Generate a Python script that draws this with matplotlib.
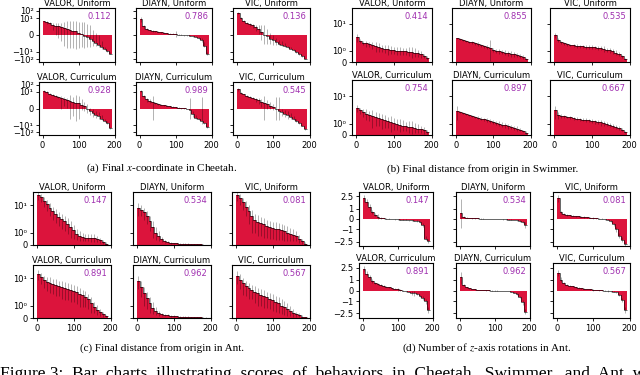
import numpy as np
import matplotlib
matplotlib.use('Agg')
import matplotlib.pyplot as plt

plt.rcParams['font.family'] = 'DejaVu Sans'
plt.rcParams['mathtext.fontset'] = 'stix'

methods = ['VALOR', 'DIAYN', 'VIC']
regimes = ['Uniform', 'Curriculum']

# (a) Cheetah: coordenada x final (orden: VALOR, DIAYN, VIC ; Uniform y luego Curriculum)
cheetah_valor_u = [3.7, 2.6, 1.9, 1.3, 0.99, 0.9, 0.82, 0.74, 0.67, 0.56, 0.47, 0.37, 0.23, 0.09, -0.08, -0.23, -0.43, -0.63, -0.82, -1.05, -2.1, -4.2, -8.4, -16.7]
cheetah_diayn_u = [8, 0.9, 0.6, 0.5, 0.42, 0.37, 0.33, 0.28, 0.24, 0.19, 0.15, 0.11, 0.08, 0.05, 0.02, -0.02, -0.05, -0.09, -0.13, -0.18, -0.3, -0.5, -1.5, -20]
cheetah_vic_u = [50, 12, 4.5, 2.2, 1.4, 1.1, 0.8, 0.6, 0.3, 0.05, -0.15, -0.4, -0.55, -0.7, -0.9, -1.1, -1.4, -2.2, -3.5, -6, -11, -22, -40, -80]
cheetah_valor_c = [14, 9, 6, 4.2, 3, 2.1, 1.5, 1.1, 0.9, 0.8, 0.7, 0.6, 0.55, 0.4, 0.25, 0.0, -0.3, -0.5, -0.65, -0.85, -1.3, -2.5, -5, -25]
cheetah_diayn_c = [15, 2.5, 1.0, 0.8, 0.65, 0.55, 0.47, 0.4, 0.35, 0.3, 0.25, 0.18, 0.12, 0.08, 0.04, 0.01, -0.05, -0.2, -0.6, -1.1, -1.6, -3, -6, -20]
cheetah_vic_c = [25, 8, 4.5, 2.8, 2, 1.5, 1.1, 0.9, 0.7, 0.6, 0.45, 0.3, 0.15, -0.05, -0.25, -0.4, -0.55, -0.75, -0.95, -1.4, -2.5, -5, -12, -35]

cheetah_valor_u_err = [1.0, 1.0, 0.8, 0.8, 1.0, 1.2, 1.5, 2.5, 3.5, 4.0, 3.5, 4.0, 3.0, 2.5, 3.0, 2.0, 1.5, 1.2, 1.0, 1.0, 1.5, 2.0, 3.0, 5.0]
cheetah_diayn_u_err = [5, 0.3, 0.1, 0.08, 0.06, 0.05, 0.05, 0.05, 0.05, 0.05, 0.05, 0.05, 0.3, 0.05, 0.05, 0.05, 0.05, 0.05, 0.05, 0.08, 0.1, 0.2, 0.8, 8]
cheetah_vic_u_err = [15, 4, 1.5, 0.8, 0.5, 0.4, 0.4, 0.5, 0.8, 1.0, 0.8, 0.6, 0.5, 0.4, 0.4, 0.5, 0.6, 0.8, 1.2, 2, 3, 6, 10, 20]
cheetah_valor_c_err = [4, 2.5, 1.5, 1.0, 0.8, 0.6, 1.5, 0.8, 0.8, 2.5, 1.5, 3.0, 2.0, 0.6, 0.5, 0.5, 0.4, 0.4, 0.4, 0.5, 0.6, 1.0, 2.0, 6]
cheetah_diayn_c_err = [5, 1.0, 0.3, 0.2, 2.5, 0.1, 0.08, 0.06, 0.05, 0.05, 0.05, 0.05, 0.05, 0.05, 0.05, 0.05, 0.05, 1.5, 0.3, 0.4, 0.5, 5, 1.5, 5]
cheetah_vic_c_err = [10, 2, 1, 0.6, 0.5, 0.4, 0.4, 0.4, 0.5, 2.5, 0.5, 0.4, 0.3, 2.0, 2.0, 0.4, 0.4, 0.5, 0.5, 0.6, 0.8, 1.5, 3, 8]
cheetah_scores = [0.112, 0.786, 0.136, 0.928, 0.989, 0.545]

# (b) Swimmer: distancia final al origen
swimmer_valor_u = [3.2, 2.3, 2.0, 1.9, 1.8, 1.65, 1.5, 1.4, 1.3, 1.22, 1.15, 1.1, 1.05, 1.02, 1.0, 0.97, 0.95, 0.93, 0.9, 0.85, 0.78, 0.68, 0.55, 0.35]
swimmer_diayn_u = [2.9, 2.7, 2.5, 2.35, 2.2, 2.05, 1.9, 1.75, 1.6, 1.5, 1.38, 1.25, 1.12, 1.02, 0.95, 0.9, 0.85, 0.78, 0.72, 0.68, 0.62, 0.55, 0.45, 0.25]
swimmer_vic_u = [3.8, 2.6, 2.1, 1.9, 1.75, 1.65, 1.58, 1.52, 1.48, 1.45, 1.42, 1.4, 1.38, 1.35, 1.32, 1.28, 1.2, 1.12, 1.05, 0.95, 0.85, 0.7, 0.5, 0.3]
swimmer_valor_c = [3.6, 3.0, 2.6, 2.3, 2.05, 1.85, 1.7, 1.55, 1.42, 1.3, 1.2, 1.1, 1.02, 0.95, 0.88, 0.82, 0.77, 0.72, 0.67, 0.62, 0.57, 0.5, 0.42, 0.25]
swimmer_diayn_c = [2.8, 2.6, 2.4, 2.2, 2.05, 1.9, 1.75, 1.62, 1.5, 1.42, 1.35, 1.25, 1.15, 1.07, 1.0, 0.92, 0.85, 0.77, 0.7, 0.62, 0.55, 0.47, 0.38, 0.22]
swimmer_vic_c = [3.0, 2.1, 1.95, 1.85, 1.75, 1.68, 1.6, 1.52, 1.45, 1.4, 1.35, 1.3, 1.25, 1.2, 1.15, 1.1, 1.02, 0.95, 0.87, 0.8, 0.7, 0.6, 0.48, 0.28]

swimmer_valor_u_err = [1.0, 0.4, 0.4, 0.5, 0.4, 0.5, 0.6, 0.5, 0.4, 0.4, 0.5, 0.4, 0.3, 0.4, 0.4, 0.3, 0.3, 0.4, 0.5, 0.4, 0.3, 0.3, 0.2, 0.2]
swimmer_diayn_u_err = [0.2, 0.2, 0.2, 0.2, 0.2, 0.2, 0.2, 0.3, 0.2, 0.2, 0.2, 1.2, 0.2, 0.2, 0.2, 0.2, 0.2, 0.2, 0.3, 0.2, 0.2, 0.2, 0.2, 0.1]
swimmer_vic_u_err = [0.8, 0.4, 0.3, 0.2, 0.2, 0.2, 0.2, 0.2, 0.2, 0.2, 0.2, 0.2, 0.2, 0.2, 0.2, 0.2, 0.3, 0.2, 0.2, 0.2, 0.2, 0.2, 0.1, 0.1]
swimmer_valor_c_err = [1.0, 0.8, 0.9, 1.0, 0.8, 1.2, 0.9, 0.8, 0.9, 0.7, 0.6, 0.8, 0.6, 0.5, 0.6, 0.5, 0.4, 0.5, 0.6, 0.4, 0.4, 0.3, 0.3, 0.2]
swimmer_diayn_c_err = [1.5, 0.2, 0.2, 0.2, 0.2, 0.2, 0.2, 0.2, 0.2, 0.2, 0.2, 0.2, 0.2, 0.2, 0.2, 0.2, 0.2, 0.2, 0.2, 0.2, 0.2, 0.15, 0.1, 0.1]
swimmer_vic_c_err = [1.5, 0.6, 0.3, 0.2, 0.2, 0.2, 0.2, 0.2, 0.2, 0.2, 0.2, 0.2, 0.2, 0.2, 0.2, 0.3, 0.2, 0.2, 0.2, 0.2, 0.2, 0.15, 0.1, 0.1]
swimmer_scores = [0.414, 0.855, 0.535, 0.754, 0.897, 0.667]

# (c) Ant: distancia final al origen
ant_valor_u = [24, 20, 15, 11, 8, 6, 4.8, 3.8, 3.2, 2.6, 2.1, 1.6, 1.2, 0.9, 0.75, 0.65, 0.6, 0.6, 0.58, 0.55, 0.5, 0.4, 0.25, 0.12]
ant_diayn_u = [8, 7, 5.5, 4, 2.6, 1.6, 1.0, 0.7, 0.45, 0.3, 0.22, 0.18, 0.15, 0.13, 0.12, 0.11, 0.1, 0.09, 0.08, 0.07, 0.06, 0.05, 0.04, 0.02]
ant_vic_u = [24, 18, 13, 9, 6, 4, 3.0, 2.5, 2.2, 2.0, 1.8, 1.6, 1.5, 1.4, 1.3, 1.2, 1.1, 1.0, 0.9, 0.8, 0.7, 0.5, 0.3, 0.12]
ant_valor_c = [15, 11, 8.5, 7.5, 6.8, 6.2, 5.7, 5.2, 4.8, 4.4, 4.1, 3.8, 3.5, 3.1, 2.7, 2.4, 2.1, 1.7, 1.2, 0.9, 0.65, 0.45, 0.3, 0.15]
ant_diayn_c = [8, 5, 3, 1.9, 1.2, 0.8, 0.55, 0.4, 0.3, 0.25, 0.21, 0.18, 0.16, 0.14, 0.12, 0.11, 0.1, 0.09, 0.08, 0.07, 0.06, 0.05, 0.04, 0.03]
ant_vic_c = [12, 9, 6.5, 5.2, 4.3, 3.7, 3.2, 2.8, 2.5, 2.2, 2.0, 1.8, 1.6, 1.4, 1.2, 1.0, 0.85, 0.7, 0.55, 0.42, 0.32, 0.22, 0.12, 0.05]

ant_valor_u_err = [8, 7, 6, 5, 4, 3, 2.5, 2, 1.8, 1.5, 1.2, 1.0, 0.7, 0.5, 0.4, 0.3, 0.3, 0.3, 0.3, 0.3, 0.25, 0.2, 0.15, 0.1]
ant_diayn_u_err = [4, 3, 2.5, 2, 1.5, 1.0, 0.6, 0.4, 0.2, 0.1, 0.08, 0.06, 0.05, 0.05, 0.05, 0.05, 0.05, 0.05, 0.04, 0.04, 0.04, 0.03, 0.03, 0.02]
ant_vic_u_err = [10, 8, 6, 5, 4, 3, 2, 1.8, 1.5, 1.4, 1.2, 1.1, 1.0, 1.0, 0.9, 0.8, 0.8, 0.7, 0.6, 0.5, 0.4, 0.3, 0.2, 0.1]
ant_valor_c_err = [6, 5, 4, 4, 4, 3.5, 3.5, 3, 3, 2.8, 2.5, 2.5, 2.2, 2, 1.8, 1.5, 1.2, 1.0, 0.8, 0.5, 0.4, 0.3, 0.2, 0.1]
ant_diayn_c_err = [4, 3, 2, 1.2, 0.8, 0.5, 0.3, 0.2, 0.12, 0.1, 0.08, 0.06, 0.05, 0.05, 0.05, 0.05, 0.04, 0.04, 0.04, 0.03, 0.03, 0.03, 0.02, 0.02]
ant_vic_c_err = [6, 5, 4, 3, 2.5, 2, 2, 1.8, 1.5, 1.4, 1.2, 1.1, 1.0, 0.9, 0.8, 0.7, 0.6, 0.5, 0.4, 0.3, 0.2, 0.15, 0.1, 0.05]
ant_scores = [0.147, 0.534, 0.081, 0.891, 0.962, 0.567]

# (d) Ant: numero de rotaciones en el eje z
rot_valor_u = [2.2, 1.6, 1.1, 0.7, 0.4, 0.22, 0.12, 0.07, 0.04, 0.02, 0.0, -0.02, -0.03, -0.05, -0.06, -0.08, -0.1, -0.12, -0.15, -0.2, -0.3, -0.6, -2.0, -2.4]
rot_diayn_u = [0.6, 0.2, 0.12, 0.1, 0.08, 0.06, 0.05, 0.04, 0.03, 0.02, 0.015, 0.01, 0.0, -0.01, -0.02, -0.03, -0.04, -0.05, -0.07, -0.1, -0.14, -0.2, -0.3, -0.6]
rot_vic_u = [2.2, 0.65, 0.45, 0.38, 0.34, 0.3, 0.27, 0.25, 0.22, 0.19, 0.16, 0.13, 0.1, 0.07, 0.04, 0.01, -0.02, -0.08, -0.2, -0.5, -1.0, -1.6, -2.2, -3.0]
rot_valor_c = [2.3, 1.6, 1.2, 0.9, 0.7, 0.58, 0.5, 0.42, 0.36, 0.3, 0.22, 0.15, 0.1, 0.05, 0.0, -0.05, -0.12, -0.2, -0.28, -0.36, -0.5, -0.7, -1.0, -2.0]
rot_diayn_c = [1.2, 0.5, 0.3, 0.2, 0.14, 0.1, 0.07, 0.05, 0.03, 0.02, 0.01, 0.0, 0.0, -0.01, -0.02, -0.03, -0.04, -0.06, -0.1, -0.2, -0.35, -0.6, -1.1, -2.2]
rot_vic_c = [1.7, 1.0, 0.7, 0.55, 0.45, 0.38, 0.32, 0.27, 0.22, 0.18, 0.14, 0.1, 0.07, 0.05, 0.03, 0.01, -0.01, -0.03, -0.06, -0.1, -0.18, -0.4, -0.9, -2.0]

rot_valor_u_err = [0.5, 0.4, 0.3, 0.2, 0.15, 0.25, 0.1, 0.06, 0.04, 0.03, 0.03, 0.03, 0.03, 0.03, 0.03, 0.04, 0.05, 0.05, 0.06, 0.08, 0.1, 0.2, 0.3, 0.3]
rot_diayn_u_err = [1.5, 0.1, 0.05, 0.04, 0.04, 0.03, 0.03, 0.03, 0.03, 0.02, 0.02, 0.02, 0.02, 0.02, 0.02, 0.02, 0.02, 0.03, 0.03, 0.04, 0.05, 0.06, 0.1, 0.3]
rot_vic_u_err = [0.6, 0.15, 0.08, 0.06, 0.05, 0.05, 0.05, 0.05, 0.05, 0.05, 0.05, 0.05, 0.1, 0.05, 0.05, 0.05, 0.05, 0.05, 0.08, 0.15, 0.2, 0.3, 0.4, 0.5]
rot_valor_c_err = [0.4, 0.3, 0.2, 0.15, 0.1, 0.1, 0.08, 0.08, 0.06, 0.06, 0.05, 0.05, 0.15, 0.05, 0.05, 0.05, 0.06, 0.2, 0.25, 0.1, 0.1, 0.15, 0.2, 0.4]
rot_diayn_c_err = [0.6, 0.1, 0.05, 0.04, 0.03, 0.03, 0.02, 0.02, 0.02, 0.02, 0.02, 0.02, 0.02, 0.02, 0.02, 0.02, 0.02, 0.02, 0.03, 0.05, 0.08, 0.1, 0.2, 0.4]
rot_vic_c_err = [0.4, 0.2, 0.1, 0.06, 0.05, 0.05, 0.04, 0.04, 0.04, 0.04, 0.04, 0.04, 0.08, 0.04, 0.04, 0.04, 0.04, 0.1, 0.05, 0.05, 0.08, 0.1, 0.2, 0.4]
rot_scores = [0.147, 0.534, 0.081, 0.891, 0.962, 0.567]

# cada barra agrupa 8 comportamientos (192 en total)
edges = np.arange(0, 193, 8)

W, H = 640, 375
fig = plt.figure(figsize=(6.4, 3.75), dpi=100)

grupos = [
    dict(vals=[cheetah_valor_u, cheetah_diayn_u, cheetah_vic_u, cheetah_valor_c, cheetah_diayn_c, cheetah_vic_c],
         errs=[cheetah_valor_u_err, cheetah_diayn_u_err, cheetah_vic_u_err, cheetah_valor_c_err, cheetah_diayn_c_err, cheetah_vic_c_err],
         scores=cheetah_scores,
         cols=[(39, 115), (136, 212), (233, 310)], rows=[(8, 62), (82, 135)],
         linscale=1.15, ylim=(-230, 230),
         yticks=[-100, -10, 0, 10, 100], ylabels=['\u221210\u00b2', '\u221210\u00b9', '0', '10\u00b9', '10\u00b2'],
         caption='(a) Final $x$-coordinate in Cheetah.', cap=(162, 168)),
    dict(vals=[swimmer_valor_u, swimmer_diayn_u, swimmer_vic_u, swimmer_valor_c, swimmer_diayn_c, swimmer_vic_c],
         errs=[swimmer_valor_u_err, swimmer_diayn_u_err, swimmer_vic_u_err, swimmer_valor_c_err, swimmer_diayn_c_err, swimmer_vic_c_err],
         scores=swimmer_scores,
         cols=[(352, 432), (452, 531), (550, 630)], rows=[(8, 62), (80, 135)],
         linscale=0.37, ylim=(0, 38),
         yticks=[0, 1, 10], ylabels=['0', '10\u2070', '10\u00b9'],
         caption='(b) Final distance from origin in Swimmer.', cap=(483, 169)),
    dict(vals=[ant_valor_u, ant_diayn_u, ant_vic_u, ant_valor_c, ant_diayn_c, ant_vic_c],
         errs=[ant_valor_u_err, ant_diayn_u_err, ant_vic_u_err, ant_valor_c_err, ant_diayn_c_err, ant_vic_c_err],
         scores=ant_scores,
         cols=[(33, 111), (133, 211), (232, 310)], rows=[(192, 245), (265, 318)],
         linscale=0.41, ylim=(0, 31),
         yticks=[0, 1, 10], ylabels=['0', '10\u2070', '10\u00b9'],
         caption='(c) Final distance from origin in Ant.', cap=(162, 348)),
    dict(vals=[rot_valor_u, rot_diayn_u, rot_vic_u, rot_valor_c, rot_diayn_c, rot_vic_c],
         errs=[rot_valor_u_err, rot_diayn_u_err, rot_vic_u_err, rot_valor_c_err, rot_diayn_c_err, rot_vic_c_err],
         scores=rot_scores,
         cols=[(359, 433), (456, 530), (553, 630)], rows=[(192, 246), (263, 318)],
         linscale=0.31, ylim=(-3.5, 3.5),
         yticks=[-2.5, -1, 0, 1, 2.5], ylabels=['\u22122.5', '\u22121', '0', '1', '2.5'],
         caption='(d) Number of $z$-axis rotations in Ant.', cap=(487, 348)),
]

for g in grupos:
    for k in range(6):
        r, c = k // 3, k % 3
        x0, x1 = g['cols'][c]
        y0, y1 = g['rows'][r]
        ax = fig.add_axes([x0 / W, 1 - y1 / H, (x1 - x0) / W, (y1 - y0) / H])
        vals = np.array(g['vals'][k])
        errs = np.array(g['errs'][k])

        ax.bar(edges[:-1], vals, width=8, align='edge', color='#dc143c', linewidth=0)
        ax.errorbar(edges[:-1] + 4, vals, yerr=errs, fmt='none', ecolor='k', alpha=0.3, elinewidth=0.7)
        ax.stairs(vals, edges, baseline=None, color='k', alpha=0.6, linewidth=0.7)

        ax.set_yscale('symlog', linthresh=1, linscale=g['linscale'])
        ax.set_ylim(*g['ylim'])
        ax.set_xlim(-10, 201)
        ax.set_yticks(g['yticks'])
        ax.yaxis.set_minor_locator(matplotlib.ticker.NullLocator())
        ax.set_xticks([0, 100, 200])
        if c == 0:
            ax.set_yticklabels(g['ylabels'])
        else:
            ax.set_yticklabels([])
        if r == 1:
            ax.set_xticklabels(['0', '100', '200'])
        else:
            ax.set_xticklabels([])
        ax.tick_params(labelsize=6, length=2.5, width=0.6, pad=1.5)
        for s in ax.spines.values():
            s.set_linewidth(0.8)

        ax.set_title(f'{methods[c]}, {regimes[r]}', fontsize=6, pad=1.5)
        ax.text(0.95, 0.93, f"{g['scores'][k]:.3f}", transform=ax.transAxes,
                ha='right', va='top', color='#a030b0', fontsize=6)

    fig.text(g['cap'][0] / W, 1 - g['cap'][1] / H, g['caption'], ha='center', va='center',
             fontsize=8, family='Liberation Serif')

# pie de figura (cortado en el borde inferior, como en el original; texto justificado)
fig.text(0.0, 1 - 366 / H,
         'Figure 3:  Bar  charts  illustrating  scores  of  behaviors  in  Cheetah,  Swimmer,  and  Ant  with',
         ha='left', va='top', fontsize=12.5, family='Liberation Serif')

fig.savefig('out.png', dpi=100)
